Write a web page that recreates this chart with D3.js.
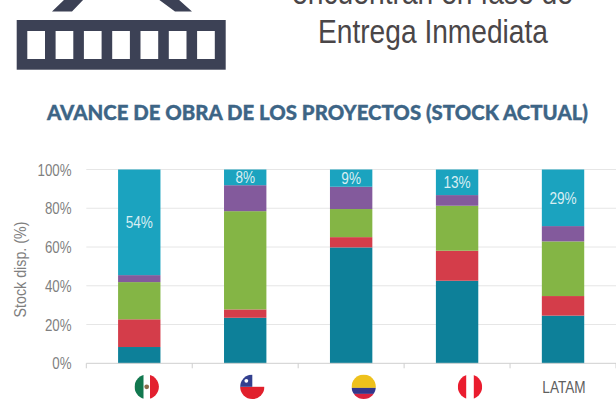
<!DOCTYPE html>
<html><head><meta charset="utf-8">
<script src="https://cdn.jsdelivr.net/npm/d3@7"></script>
<style>html,body{margin:0;padding:0;background:#fff}svg{display:block}</style>
</head><body><svg id="c" width="616" height="413"></svg>
<script>
const categories = ["MX","CL","CO","PE","LATAM"];
const seriesNames = ["s1","s2","s3","s4","s5"];
const s1 = [8.4,23.5,59.8,42.6,24.6];
const s2 = [14.3,4.3,5.3,15.5,10.1];
const s3 = [19.2,50.7,14.5,23.2,28.2];
const s4 = [3.6,13.4,11.5,5.5,7.9];
const s5 = [54.5,8.1,8.9,13.2,29.2];
const seriesColors = ["#0d8099","#d43d4a","#84b545","#835a9c","#1ba3bf"];
const topLabels = ["54%","8%","9%","13%","29%"];
const yTicks = [0,20,40,60,80,100];
const title = "AVANCE DE OBRA DE LOS PROYECTOS (STOCK ACTUAL)";
const headerLines = ["encuentran en fase de","Entrega Inmediata"];
const yTitle = "Stock disp. (%)";

const svg = d3.select("#c");
const x = d3.scaleBand().domain(categories).range([86.3,616]).paddingInner(0.6).paddingOuter(0.3);
const y = d3.scaleLinear().domain([0,100]).range([363.3,169.5]);
const step = x.step();
const sans = "Liberation Sans";
const squeeze = (sel,f)=>sel.each(function(){d3.select(this).attr("textLength",this.getComputedTextLength()*f).attr("lengthAdjust","spacingAndGlyphs");});

// header pictogram
const ic = svg.append("g").attr("fill","#3c4155");
ic.append("path").attr("d","M52 11.5 L65 -1 L84 -1 L72 11.5 Z M192 11.5 L178 -1 L158 -1 L175 11.5 Z");
ic.append("rect").attr("x",16.7).attr("y",20).attr("width",209).attr("height",49.7);
d3.range(7).forEach(i=>ic.append("rect").attr("x",27.3+i*28.3).attr("y",31).attr("width",17.7).attr("height",28).attr("fill","#fff"));

svg.append("text").attr("x",432.5).attr("y",4).attr("text-anchor","middle").attr("font-family",sans).attr("font-size",33).attr("fill","#4a4648").attr("textLength",281).attr("lengthAdjust","spacingAndGlyphs").text(headerLines[0]);
svg.append("text").attr("x",433).attr("y",43).attr("text-anchor","middle").attr("font-family",sans).attr("font-size",33).attr("fill","#4a4648").attr("textLength",230).attr("lengthAdjust","spacingAndGlyphs").text(headerLines[1]);
svg.append("text").attr("x",317.5).attr("y",120).attr("text-anchor","middle").attr("font-family","Lato").attr("font-weight",900).attr("font-size",20).attr("fill","#3d6586").attr("stroke","#3d6586").attr("stroke-width",0.35).attr("textLength",541).attr("lengthAdjust","spacingAndGlyphs").text(title);

// grid
svg.append("g").selectAll("line").data(yTicks.slice(1)).join("line")
  .attr("x1",86.3).attr("x2",616).attr("y1",d=>y(d)).attr("y2",d=>y(d)).attr("stroke","#e6e6e6").attr("stroke-width",1);

// stacked bars
const rows = categories.map((c,i)=>({c,s1:s1[i],s2:s2[i],s3:s3[i],s4:s4[i],s5:s5[i]}));
const stack = d3.stack().keys(seriesNames)(rows);
svg.append("g").selectAll("g").data(stack).join("g").attr("fill",(d,i)=>seriesColors[i])
  .selectAll("rect").data(d=>d).join("rect")
  .attr("x",d=>x(d.data.c)).attr("width",x.bandwidth())
  .attr("y",d=>y(d[1])).attr("height",d=>y(d[0])-y(d[1]));

// axis line and ticks
svg.append("line").attr("x1",86.3).attr("x2",616).attr("y1",y(0)).attr("y2",y(0)).attr("stroke","#cfcfcf").attr("stroke-width",1);
svg.append("g").selectAll("line").data(d3.range(6)).join("line")
  .attr("x1",i=>86.3+i*step).attr("x2",i=>86.3+i*step).attr("y1",y(0)).attr("y2",y(0)+5).attr("stroke","#cfcfcf");

// y tick labels
svg.append("g").selectAll("text").data(yTicks).join("text")
  .attr("x",71.5).attr("y",d=>y(d)+6).attr("text-anchor","end").attr("font-family",sans).attr("font-size",16).attr("fill","#7f7f7f").text(d=>d+"%").call(squeeze,0.83);
svg.append("text").attr("transform","translate(26,269.5) rotate(-90)").attr("text-anchor","middle").attr("font-family",sans).attr("font-size",16).attr("fill","#7f7f7f").text(yTitle).call(squeeze,0.89);

// blue segment labels
svg.append("g").selectAll("text").data(stack[4]).join("text")
  .attr("x",d=>x(d.data.c)+x.bandwidth()/2).attr("y",d=>(y(d[0])+y(d[1]))/2+6)
  .attr("text-anchor","middle").attr("font-family",sans).attr("font-size",17).attr("fill","#d8eef3")
  .text((d,i)=>topLabels[i]).call(squeeze,0.8);

// flag tick labels
const flagCx = {MX:146.7,CL:252.3,CO:363.7,PE:470};
const cy = 386.8, r = 12.2;
const defs = svg.append("defs");
categories.slice(0,4).forEach((c,i)=>{
  const cx = flagCx[c];
  defs.append("clipPath").attr("id","f"+i).append("circle").attr("cx",cx).attr("cy",cy).attr("r",r);
  const g = svg.append("g").attr("clip-path",`url(#f${i})`);
  const R=(a,b,w,h,f)=>g.append("rect").attr("x",a).attr("y",b).attr("width",w).attr("height",h).attr("fill",f);
  R(cx-r,cy-r,2*r,2*r,"#fff");
  if(c==="MX"){R(cx-r,cy-r,9,2*r,"#12784f");R(cx+3.3,cy-r,9,2*r,"#e3202f");
    g.append("circle").attr("cx",cx).attr("cy",cy).attr("r",2.4).attr("fill","#8a6a4a");}
  if(c==="CL"){R(cx-r,cy,2*r,r,"#e1202c");R(cx-r,cy-r,r,r,"#33408f");
    g.append("circle").attr("cx",cx-6).attr("cy",cy-6).attr("r",1.9).attr("fill","#fff");}
  if(c==="CO"){R(cx-r,cy-r,2*r,13.3,"#eec11c");R(cx-r,cy+1.1,2*r,6,"#33378c");R(cx-r,cy+7.1,2*r,6,"#d9233f");}
  if(c==="PE"){R(cx-r,cy-r,8.4,2*r,"#ea1c2e");R(cx+3.8,cy-r,8.4,2*r,"#ea1c2e");}
});
svg.append("text").attr("x",x("LATAM")+x.bandwidth()/2+1).attr("y",392.5).attr("text-anchor","middle").attr("font-family",sans).attr("font-size",16).attr("fill","#5f5f5f").text("LATAM").call(squeeze,0.85);
</script></body></html>
